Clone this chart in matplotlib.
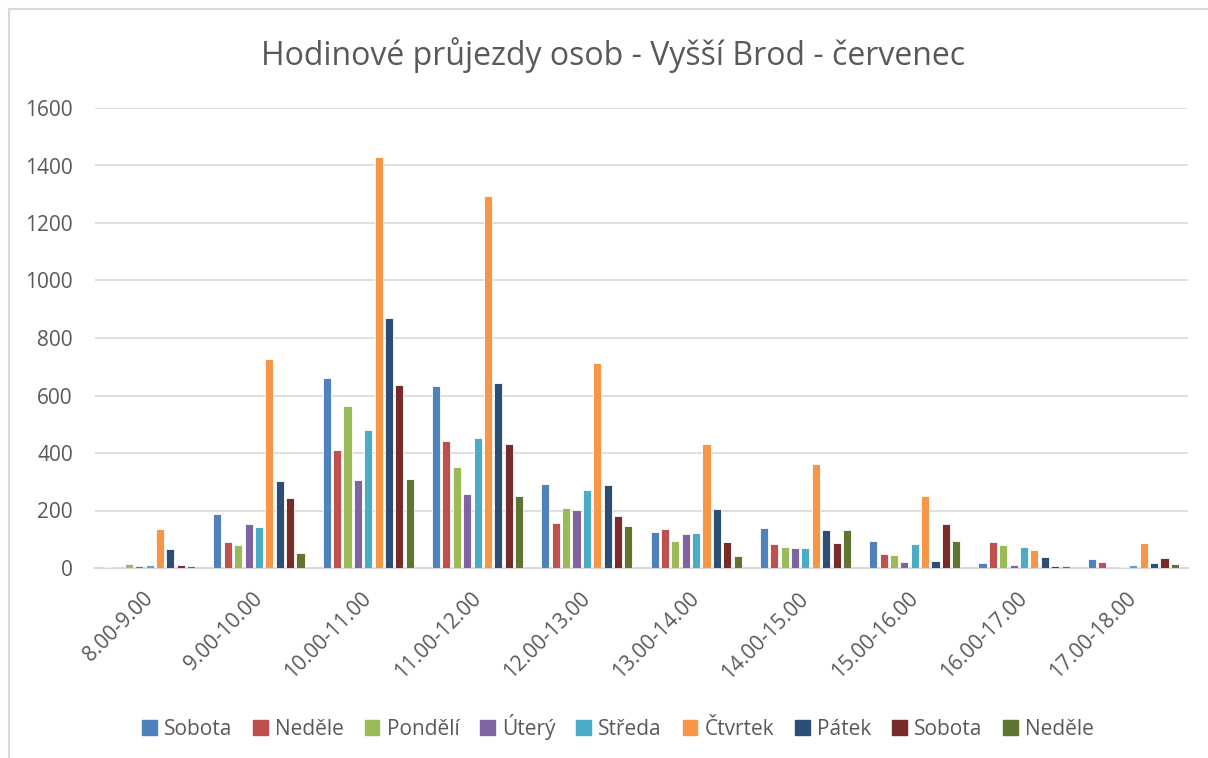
import numpy as np
import matplotlib.pyplot as plt
from matplotlib.lines import Line2D

plt.rcParams['font.family'] = ['Open Sans', 'DejaVu Sans']

# time slots on the x axis
hours = ['8.00-9.00', '9.00-10.00', '10.00-11.00', '11.00-12.00', '12.00-13.00',
         '13.00-14.00', '14.00-15.00', '15.00-16.00', '16.00-17.00', '17.00-18.00']

# days in legend order (Sobota and Neděle appear twice)
days = ['Sobota', 'Neděle', 'Pondělí', 'Úterý', 'Středa', 'Čtvrtek', 'Pátek', 'Sobota', 'Neděle']

sobota1 = [3, 188, 661, 634, 291, 124, 140, 95, 17, 33]
nedele1 = [0, 89, 410, 441, 157, 137, 84, 50, 90, 22]
pondeli = [13, 79, 563, 352, 209, 95, 72, 46, 81, 0]
utery = [6, 153, 306, 256, 203, 119, 68, 22, 11, 3]
streda = [9, 143, 479, 452, 270, 123, 68, 82, 72, 10]
ctvrtek = [134, 726, 1428, 1294, 713, 431, 362, 250, 61, 88]
patek = [65, 303, 868, 643, 290, 205, 132, 26, 40, 16]
sobota2 = [9, 243, 635, 431, 180, 89, 86, 152, 6, 34]
nedele2 = [6, 52, 311, 250, 147, 43, 132, 93, 6, 15]

series = [sobota1, nedele1, pondeli, utery, streda, ctvrtek, patek, sobota2, nedele2]
colors = ['#4F81BD', '#C0504D', '#9BBB59', '#8064A2', '#4BACC6',
          '#F79646', '#2C4D75', '#772C2A', '#5F7530']

txt = '#595959'
grid = '#d9d9d9'

fig = plt.figure(figsize=(12.08, 7.58), dpi=100)
ax = fig.add_axes([95 / 1208, 1 - 568 / 758, 1093 / 1208, 460 / 758])

x = np.arange(len(hours))
step = 0.095
width = 0.074
for i, (vals, c) in enumerate(zip(series, colors)):
    offs = (i - 4) * step
    ax.bar(x + offs, vals, width, color=c, edgecolor='white', linewidth=0.6,
           label=days[i], zorder=3)

ax.set_xlim(-0.5, len(hours) - 0.5)
ax.set_ylim(0, 1600)
ax.set_yticks(np.arange(0, 1601, 200))
ax.yaxis.grid(True, color=grid, linewidth=1.2, zorder=0)
ax.set_axisbelow(True)
for s in ['left', 'right', 'top']:
    ax.spines[s].set_visible(False)
ax.spines['bottom'].set_color(grid)
ax.spines['bottom'].set_linewidth(1.5)
ax.tick_params(axis='both', length=0, colors=txt, labelsize=15)
ax.tick_params(axis='y', pad=16)
ax.tick_params(axis='x', pad=20)
ax.set_xticks(x)
ax.set_xticklabels(hours, rotation=45, ha='right', rotation_mode='anchor', va='center')

fig.text(613 / 1208, 1 - 55 / 758, 'Hodinové průjezdy osob - Vyšší Brod - červenec',
         ha='center', va='center', fontsize=23, color=txt)

handles = [plt.Rectangle((0, 0), 1, 1, color=c) for c in colors]
fig.legend(handles, days, loc='center', bbox_to_anchor=(618 / 1208, 1 - 727 / 758),
           ncol=9, frameon=False, fontsize=15, labelcolor=txt, handlelength=0.7,
           handleheight=0.7, handletextpad=0.35, columnspacing=1.0)

# chart frame (only left and top edges are visible in the reference)
fig.add_artist(Line2D([9 / 1208, 9 / 1208], [0, 1 - 9 / 758], transform=fig.transFigure,
                      color=grid, linewidth=1.5))
fig.add_artist(Line2D([9 / 1208, 1], [1 - 9 / 758, 1 - 9 / 758], transform=fig.transFigure,
                      color=grid, linewidth=1.5))

fig.savefig('out.png', dpi=100)
